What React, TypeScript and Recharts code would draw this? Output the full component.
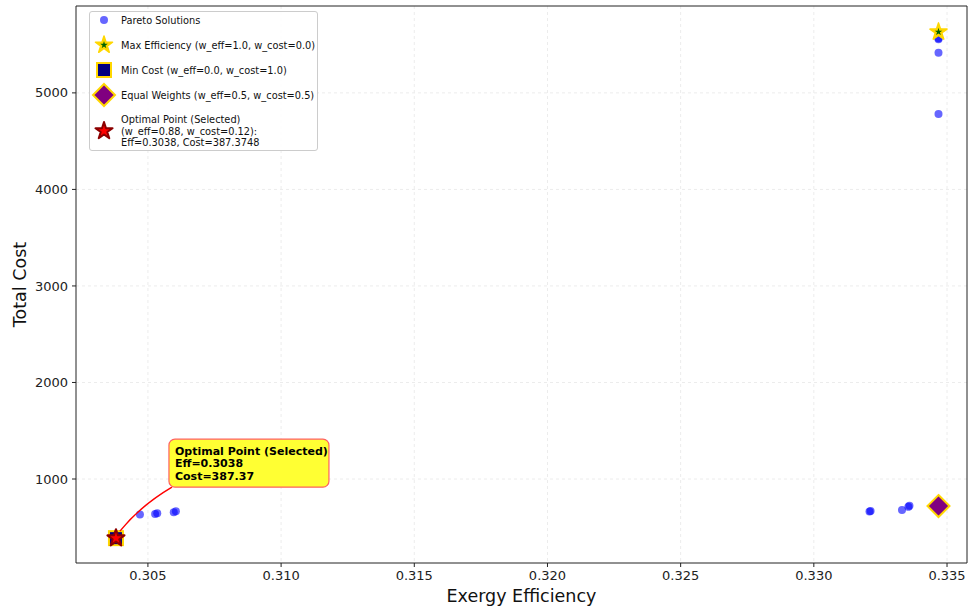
import { CartesianGrid, Legend, ReferenceArea, Scatter, ScatterChart, XAxis, YAxis } from 'recharts';

const paretoEff = [0.30384, 0.3047, 0.30527, 0.30535, 0.30597, 0.30605, 0.33209, 0.33213, 0.33331, 0.33355, 0.33359, 0.33468, 0.33468, 0.33468, 0.33468, 0.33468, 0.33468];
const paretoCost = [387.37, 632, 638, 645, 655, 665, 664, 668, 679, 712, 722, 720, 4782, 5415, 5555, 5565, 5632];

const maxEffPoint = [{ eff: 0.33468, cost: 5632 }];
const minCostPoint = [{ eff: 0.3038, cost: 387.37 }];
const equalPoint = [{ eff: 0.33468, cost: 720 }];
const optimalPoint = [{ eff: 0.3038, cost: 387.37 }];

const xTicks = [0.305, 0.31, 0.315, 0.32, 0.325, 0.33, 0.335];
const yTicks = [1000, 2000, 3000, 4000, 5000];
const xDomain = [0.3023, 0.33575];
const yDomain = [130, 5900];

const legendLabels = [
  'Pareto Solutions',
  'Max Efficiency (w_eff=1.0, w_cost=0.0)',
  'Min Cost (w_eff=0.0, w_cost=1.0)',
  'Equal Weights (w_eff=0.5, w_cost=0.5)',
];
const optimalLabel = ['Optimal Point (Selected)', '(w_eff=0.88, w_cost=0.12):', 'Eff=0.3038, Cost=387.3748'];
const annotationLines = ['Optimal Point (Selected)', 'Eff=0.3038', 'Cost=387.37'];

const paretoData = paretoEff.map((eff, i) => ({ eff, cost: paretoCost[i] }));

const FONT = '"DejaVu Sans", sans-serif';

function starPath(cx: number, cy: number, R: number) {
  const r = R * 0.382;
  const pts: string[] = [];
  for (let i = 0; i < 10; i++) {
    const a = -Math.PI / 2 + (i * Math.PI) / 5;
    const rad = i % 2 === 0 ? R : r;
    pts.push(`${cx + rad * Math.cos(a)},${cy + rad * Math.sin(a)}`);
  }
  return pts.join(' ');
}

const ParetoDot = (p: any) => <circle cx={p.cx} cy={p.cy} r={4} fill="blue" fillOpacity={0.6} />;

const MaxEffShape = (p: any) => (
  <g>
    <polygon points={starPath(p.cx, p.cy, 9)} fill="gold" stroke="gold" strokeWidth={1.5} strokeLinejoin="round" />
    <polygon points={starPath(p.cx, p.cy, 4)} fill="darkgreen" />
  </g>
);

const MinCostShape = (p: any) => (
  <rect x={p.cx - 7} y={p.cy - 7} width={14} height={14} fill="navy" stroke="gold" strokeWidth={2} />
);

const EqualShape = (p: any) => (
  <polygon
    points={`${p.cx},${p.cy - 11} ${p.cx + 11},${p.cy} ${p.cx},${p.cy + 11} ${p.cx - 11},${p.cy}`}
    fill="purple"
    stroke="gold"
    strokeWidth={2}
  />
);

const OptimalShape = (p: any) => (
  <polygon points={starPath(p.cx, p.cy, 9)} fill="red" stroke="darkred" strokeWidth={2} strokeLinejoin="round" />
);

const AnnotationShape = (p: any) => {
  const { cx, cy } = p;
  return (
    <g>
      <path d={`M${cx + 4},${cy - 7} Q${cx + 24},${cy - 32} ${cx + 56},${cy - 51}`} fill="none" stroke="red" strokeWidth={1.5} />
      <rect x={cx + 53} y={cy - 99} width={160} height={48} rx={6} fill="#ffff33" stroke="#ff6060" strokeWidth={1.2} />
      {annotationLines.map((t, i) => (
        <text key={i} x={cx + 59} y={cy - 83 + i * 12.3} fontFamily={FONT} fontSize={11} fontWeight="bold" fill="#000">
          {t}
        </text>
      ))}
    </g>
  );
};

const LegendBox = () => {
  const rowY = [9, 34, 59, 84];
  const icons = [
    <circle cx={10} cy={10} r={4} fill="blue" fillOpacity={0.6} />,
    <g>
      <polygon points={starPath(10, 10, 9)} fill="gold" stroke="gold" strokeWidth={1.5} strokeLinejoin="round" />
      <polygon points={starPath(10, 10, 4)} fill="darkgreen" />
    </g>,
    <rect x={3} y={3} width={14} height={14} fill="navy" stroke="gold" strokeWidth={2} />,
    <polygon points="10,-1 21,10 10,21 -1,10" fill="purple" stroke="gold" strokeWidth={2} />,
  ];
  return (
    <div
      style={{
        position: 'relative',
        width: 229,
        height: 140,
        boxSizing: 'border-box',
        border: '1px solid #cccccc',
        borderRadius: 3,
        background: 'rgba(255,255,255,0.85)',
        fontFamily: FONT,
        fontSize: 9.8,
        color: '#111',
      }}
    >
      {legendLabels.map((t, i) => (
        <div key={i}>
          <svg width={22} height={22} style={{ position: 'absolute', left: 4, top: rowY[i] - 11, overflow: 'visible' }}>
            {icons[i]}
          </svg>
          <div style={{ position: 'absolute', left: 31, top: rowY[i] - 7, whiteSpace: 'nowrap', lineHeight: '14px' }}>{t}</div>
        </div>
      ))}
      <svg width={22} height={22} style={{ position: 'absolute', left: 4, top: 109, overflow: 'visible' }}>
        <polygon points={starPath(10, 10, 9)} fill="red" stroke="darkred" strokeWidth={2} strokeLinejoin="round" />
      </svg>
      <div style={{ position: 'absolute', left: 31, top: 102, whiteSpace: 'nowrap', lineHeight: '11.7px' }}>
        {optimalLabel.map((t, i) => (
          <div key={i}>{t}</div>
        ))}
      </div>
    </div>
  );
};

export default function App() {
  return (
    <div style={{ position: 'absolute', left: 0, top: 0, background: '#fff' }}>
      <ScatterChart width={968} height={607} margin={{ top: 6, right: 1, bottom: 0, left: 0 }}>
        <CartesianGrid stroke="#ececec" strokeDasharray="3 3" horizontalValues={yTicks} verticalValues={xTicks} />
        <XAxis
          type="number"
          dataKey="eff"
          domain={xDomain}
          ticks={xTicks}
          allowDataOverflow
          height={44}
          axisLine={false}
          tickSize={4}
          tickMargin={4}
          tickLine={{ stroke: '#222' }}
          tick={{ fontFamily: FONT, fontSize: 13, fill: '#222' }}
          tickFormatter={(v: number) => v.toFixed(3)}
          label={{ value: 'Exergy Efficiency', position: 'insideBottom', offset: 5, fontFamily: FONT, fontSize: 17.5, fill: '#111' }}
        />
        <YAxis
          type="number"
          dataKey="cost"
          domain={yDomain}
          ticks={yTicks}
          allowDataOverflow
          width={76}
          axisLine={false}
          tickSize={4}
          tickMargin={4}
          tickLine={{ stroke: '#222' }}
          tick={{ fontFamily: FONT, fontSize: 13, fill: '#222' }}
          label={{
            value: 'Total Cost',
            angle: -90,
            position: 'insideLeft',
            offset: 20,
            style: { textAnchor: 'middle' },
            fontFamily: FONT,
            fontSize: 17.5,
            fill: '#111',
          }}
        />
        <ReferenceArea x1={xDomain[0]} x2={xDomain[1]} y1={yDomain[0]} y2={yDomain[1]} fill="none" stroke="#222" strokeWidth={1} />
        <Scatter data={paretoData} shape={ParetoDot} isAnimationActive={false} />
        <Scatter data={minCostPoint} shape={MinCostShape} isAnimationActive={false} />
        <Scatter data={maxEffPoint} shape={MaxEffShape} isAnimationActive={false} />
        <Scatter data={equalPoint} shape={EqualShape} isAnimationActive={false} />
        <Scatter data={optimalPoint} shape={OptimalShape} isAnimationActive={false} />
        <Scatter data={optimalPoint} shape={AnnotationShape} isAnimationActive={false} />
        <Legend
          layout="vertical"
          align="center"
          verticalAlign="middle"
          content={() => <LegendBox />}
          wrapperStyle={{ left: 89, top: 11, width: 229, height: 140 }}
        />
      </ScatterChart>
    </div>
  );
}
